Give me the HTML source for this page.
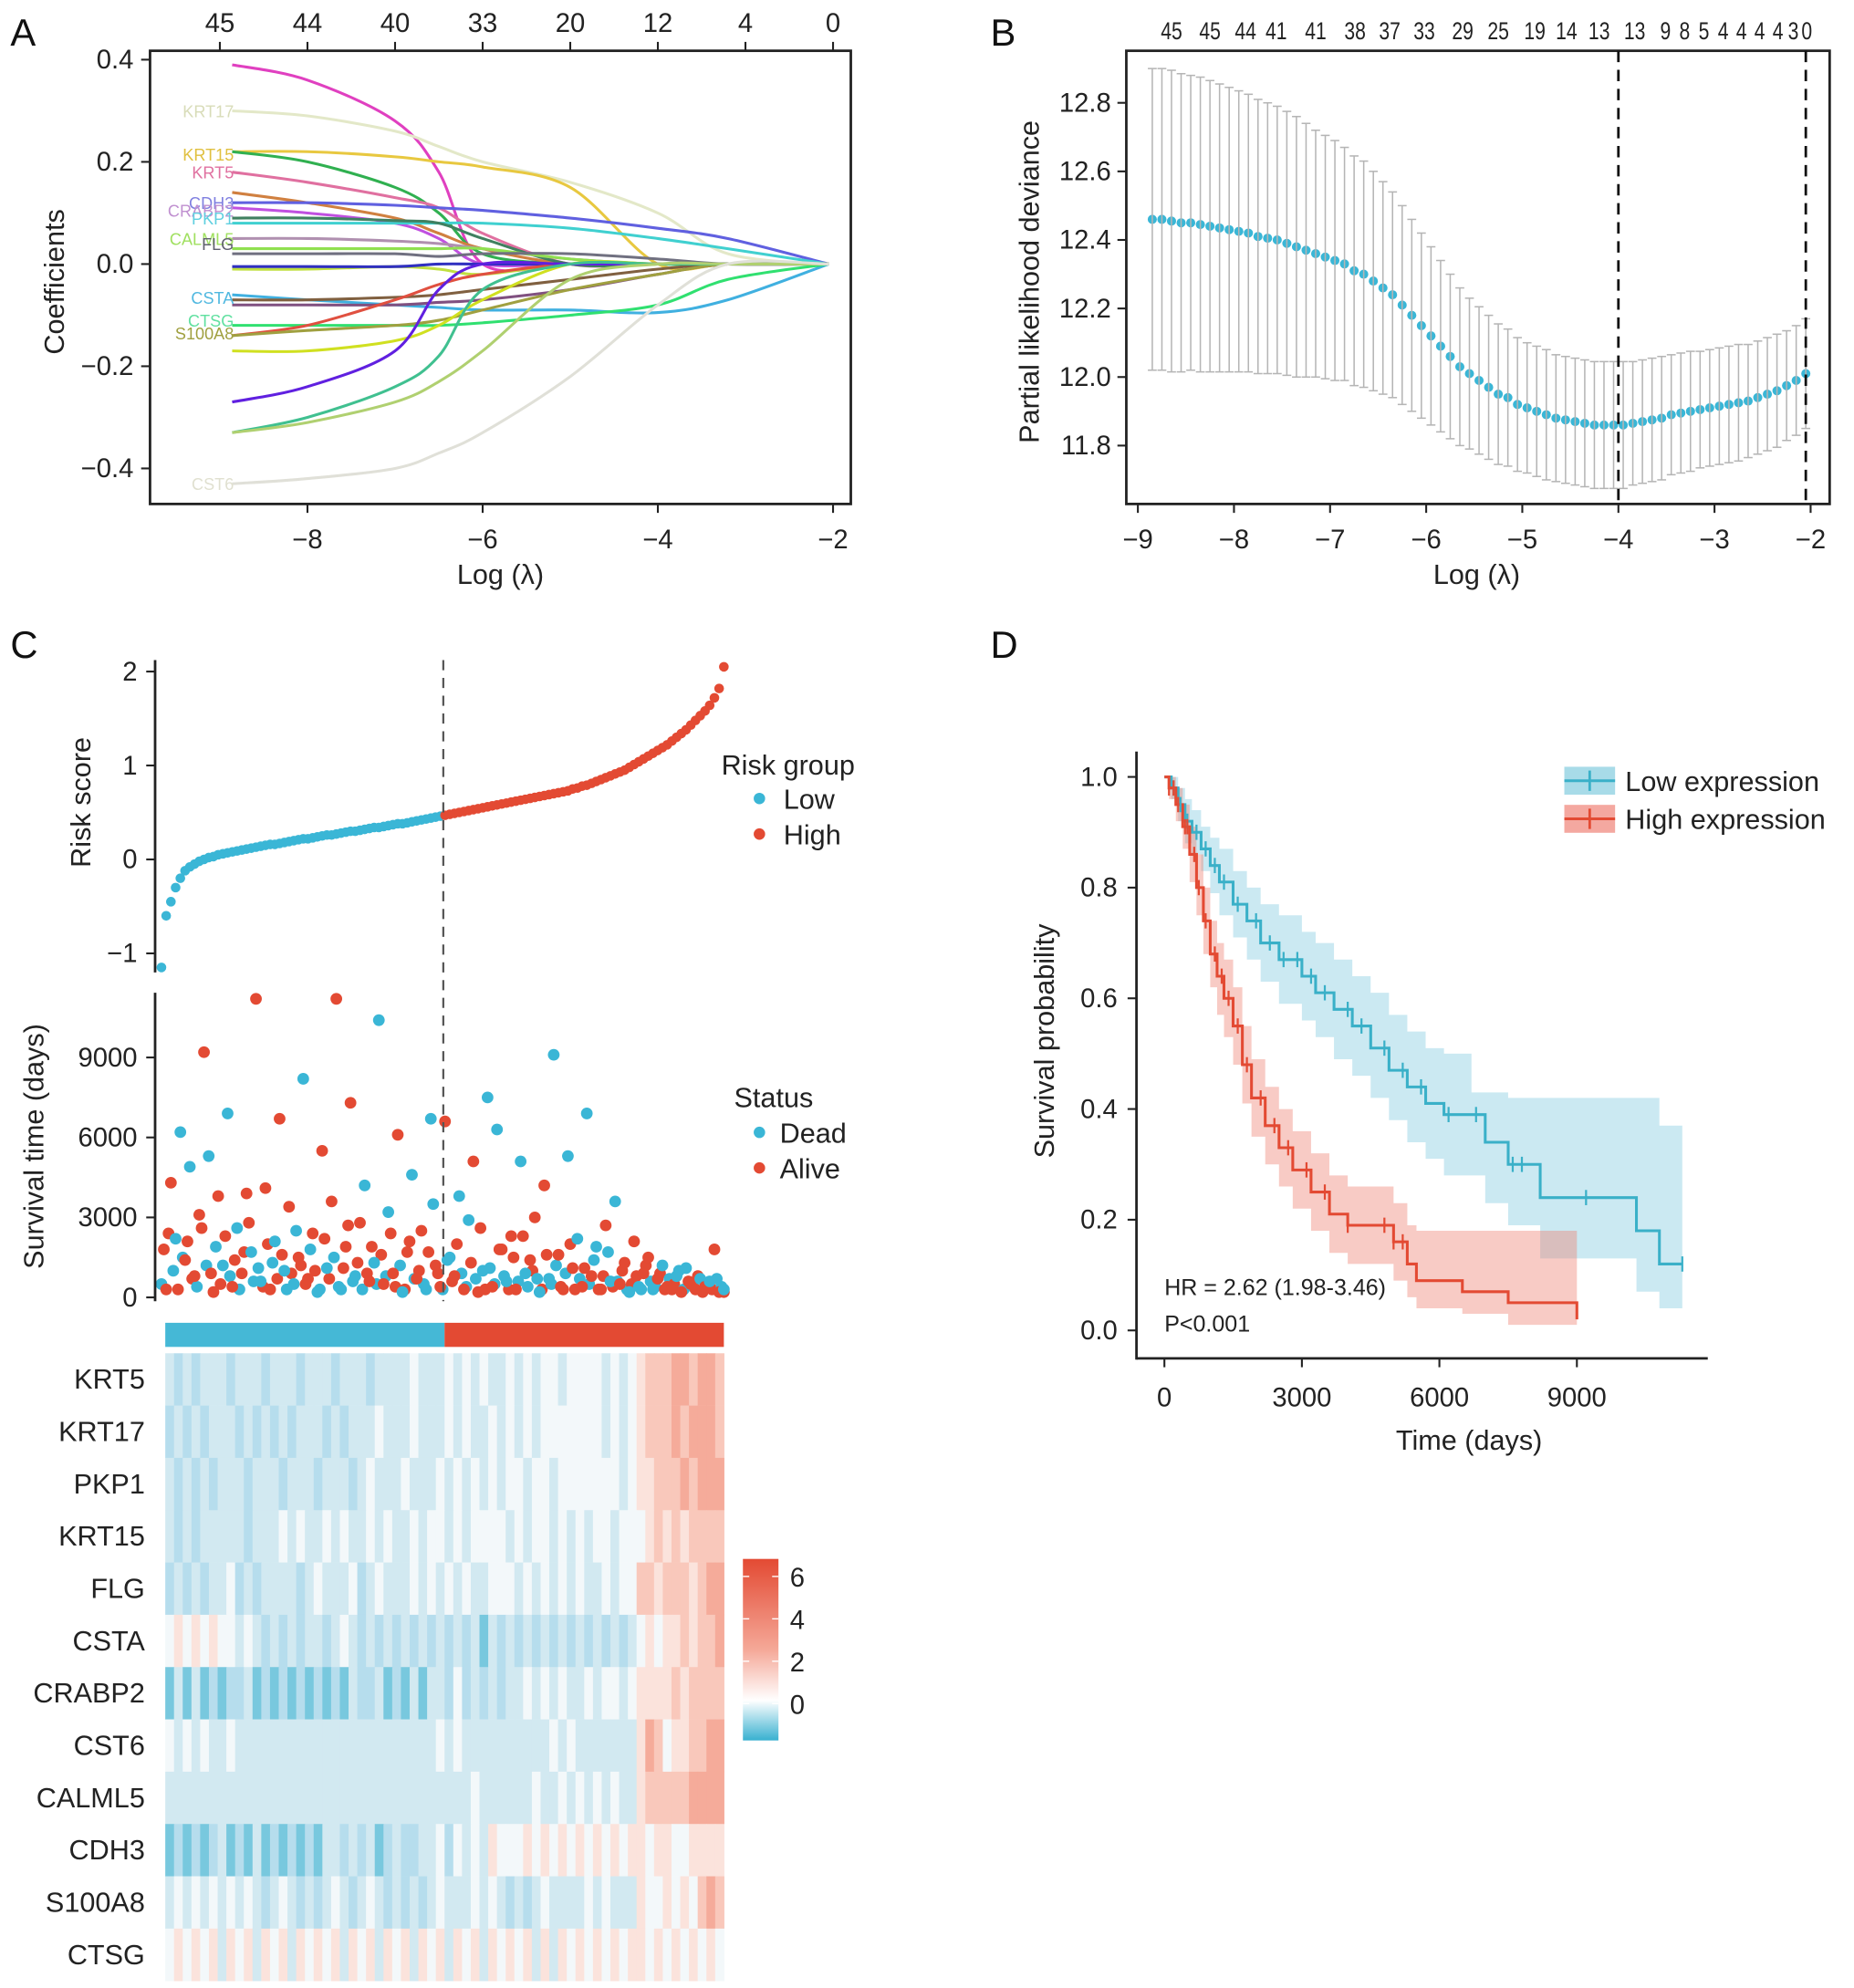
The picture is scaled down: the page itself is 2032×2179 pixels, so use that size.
<!DOCTYPE html>
<html><head><meta charset="utf-8"><style>
html,body{margin:0;padding:0;background:#fff}
svg{display:block;font-family:"Liberation Sans",Arial,sans-serif}
</style></head><body>
<svg id="fig" xmlns="http://www.w3.org/2000/svg" width="2032" height="2179" viewBox="0 0 1460 1566">
<rect x="0" y="0" width="1460" height="1566" fill="#fff"/>
</svg>
<script>
// ---------- Panel A data ----------
const aLambda=[-8.86,-8,-7,-6.5,-6,-5,-4,-3.2,-2.05];
const aColors=["#e040c0","#e3e8c8","#e8c840","#30b050","#e070a0","#d08040","#6060e0","#c050e0","#40d0d0","#408060","#b090b0","#90e050","#707080","#c0e040","#3030c0","#40b0e0","#806040","#805080","#30e070","#e05040","#a0a040","#d0e020","#6020e0","#40c090","#b0d070","#e0e0d8"];
const aCoefs=[
[.39,.36,.28,.18,0,0,0,0,0],
[.30,.29,.26,.23,.20,.16,.10,.02,0],
[.22,.22,.21,.20,.19,.15,0,0,0],
[.22,.20,.15,.10,.02,0,0,0,0],
[.18,.16,.13,.11,.06,0,0,0,0],
[.14,.12,.09,.06,.03,0,0,0,0],
[.12,.12,.115,.11,.105,.09,.07,.05,0],
[.11,.10,.08,.05,0,0,0,0,0],
[.08,.08,.08,.08,.08,.07,.05,.03,0],
[.09,.09,.085,.08,.05,0,0,0,0],
[.05,.05,.045,.04,.03,.01,0,0,0],
[.03,.03,.03,.03,.03,.01,0,0,0],
[.02,.02,.02,.015,.02,.02,.01,0,0],
[-.01,-.01,-.005,-.01,-.02,0,0,0,0],
[-.005,-.005,-.005,0,0,0,0,0,0],
[-.06,-.07,-.08,-.085,-.09,-.09,-.095,-.07,0],
[-.07,-.07,-.065,-.06,-.05,-.03,-.01,0,0],
[-.08,-.08,-.08,-.075,-.07,-.05,-.02,0,0],
[-.12,-.12,-.12,-.12,-.115,-.1,-.08,-.03,0],
[-.14,-.12,-.07,-.04,-.02,0,0,0,0],
[-.14,-.13,-.12,-.11,-.09,-.05,-.02,0,0],
[-.17,-.17,-.15,-.12,-.07,0,0,0,0],
[-.27,-.24,-.17,-.05,0,0,0,0,0],
[-.33,-.30,-.24,-.18,-.05,0,0,0,0],
[-.33,-.31,-.27,-.23,-.17,-.03,0,0,0],
[-.43,-.42,-.40,-.37,-.33,-.22,-.08,0,0]];
const aLabels=["KRT17","KRT15","KRT5","CDH3","CRABP2","PKP1","CALML5","FLG","CSTA","CTSG","S100A8","CST6"];
const aLabelVals=[.30,.215,.18,.12,.105,.09,.05,.04,-.065,-.11,-.135,-.43];
const aLabelColors=["#d8dcb8","#e0c040","#e070a0","#8080e0","#c090d0","#60d0e0","#a0e060","#606070","#50b8e0","#60e0a0","#a0a040","#e0e0d0"];
const aXTicks=[-8,-6,-4,-2];
const aYTicks=[0.4,0.2,0.0,-0.2,-0.4];
const aYTickLabels=["0.4","0.2","0.0","\u22120.2","\u22120.4"];
const aTopTicks=[-9,-8,-7,-6,-5,-4,-3,-2];
const aTopLabels=["45","44","40","33","20","12","4","0"];
// ---------- Panel B data ----------
const bStart=-8.85, bStep=0.1;
const bMeans=[12.46,12.46,12.455,12.45,12.45,12.445,12.44,12.435,12.43,12.425,
12.42,12.41,12.405,12.40,12.39,12.38,12.37,12.36,12.35,12.34,
12.33,12.31,12.30,12.28,12.26,12.24,12.21,12.18,12.15,12.12,
12.09,12.06,12.03,12.01,11.99,11.97,11.95,11.94,11.92,11.91,
11.90,11.89,11.88,11.875,11.87,11.865,11.86,11.86,11.86,11.86,
11.865,11.87,11.875,11.88,11.89,11.895,11.90,11.905,11.91,11.915,
11.92,11.925,11.93,11.94,11.95,11.96,11.975,11.99,12.01];
const bSE=[0.44,0.44,0.44,0.435,0.43,0.43,0.425,0.42,0.415,0.41,
0.405,0.40,0.395,0.39,0.385,0.38,0.37,0.36,0.355,0.35,
0.34,0.335,0.33,0.32,0.31,0.30,0.29,0.28,0.27,0.26,
0.25,0.24,0.23,0.22,0.215,0.21,0.205,0.20,0.195,0.19,
0.19,0.19,0.185,0.185,0.185,0.185,0.185,0.185,0.185,0.185,
0.18,0.18,0.18,0.18,0.175,0.175,0.175,0.17,0.17,0.17,
0.17,0.17,0.165,0.165,0.165,0.165,0.16,0.16,0.16];
const bXTicks=[-9,-8,-7,-6,-5,-4,-3,-2];
const bYTicks=[12.8,12.6,12.4,12.2,12.0,11.8];
const bTopLambda=[-8.65,-8.25,-7.88,-7.56,-7.15,-6.74,-6.38,-6.02,-5.62,-5.25,-4.87,-4.54,-4.2,-3.83,-3.51,-3.31,-3.11,-2.91,-2.72,-2.53,-2.34,-2.18,-2.04];
const bTopLabels=["45","45","44","41","41","38","37","33","29","25","19","14","13","13","9","8","5","4","4","4","4","3","0"];
const bVLines=[-4.0,-2.05];
// ---------- Panel C data ----------
const riskScores=[-1.15,-0.6,-0.45,-0.3,-0.2,-0.12,-0.08,-0.05,-0.02,0.0,0.02,0.03,0.05,0.06,0.07,0.08,0.09,0.10,0.11,0.12,0.13,0.14,0.15,0.16,0.16,0.17,0.18,0.19,0.20,0.21,0.22,0.22,0.23,0.24,0.25,0.26,0.26,0.27,0.28,0.29,0.30,0.30,0.31,0.32,0.33,0.34,0.34,0.35,0.36,0.37,0.38,0.38,0.39,0.40,0.41,0.42,0.43,0.44,0.45,0.46,
0.47,0.48,0.49,0.50,0.51,0.52,0.53,0.54,0.55,0.56,0.57,0.58,0.59,0.60,0.61,0.62,0.63,0.64,0.65,0.66,0.67,0.68,0.69,0.70,0.71,0.72,0.73,0.75,0.76,0.78,0.79,0.81,0.83,0.85,0.87,0.89,0.91,0.93,0.95,0.98,1.01,1.04,1.07,1.10,1.13,1.16,1.19,1.22,1.26,1.30,1.34,1.38,1.43,1.48,1.53,1.58,1.64,1.72,1.82,2.05];
const riskGroup=riskScores.map((v,i)=>i<60?"Low":"High");
const survTimes=[500,300,4300,2200,6200,1400,4900,800,3100,9200,5300,200,3800,1200,6900,400,2600,900,3900,1700,11200,600,4100,300,2100,6700,1000,3400,500,1500,8200,700,2400,200,5500,1100,3600,11200,300,1900,7300,800,2800,4200,600,1300,10400,500,3200,900,6100,200,1700,4600,700,2500,300,6700,1200,400,
6600,1500,800,3800,300,2900,5100,200,1000,7500,400,6300,1800,600,2300,300,5100,900,1400,3000,200,4200,700,9100,1600,300,5300,1100,2200,400,6900,800,1900,300,2700,600,3600,500,1300,200,2100,400,900,1500,300,700,1200,400,300,800,200,1100,500,300,700,400,600,1800,200,300];
const survStatus=[1,0,0,1,1,0,1,0,0,0,1,0,0,1,1,0,1,0,0,1,0,1,0,0,1,0,1,0,1,0,1,0,0,1,0,1,0,0,1,0,0,1,0,1,0,1,1,0,1,0,0,1,0,1,0,0,1,1,0,0,
0,1,0,1,0,1,0,0,1,1,0,1,0,1,0,0,1,1,0,0,1,0,1,1,0,0,1,0,1,0,1,0,1,0,0,1,1,0,0,1,0,1,0,0,1,0,1,0,0,1,0,1,0,0,1,0,1,0,0,1];
const survTimes2=[1800,2400,1000,300,1500,2100,700,400,2600,1200,900,1900,500,2300,800,1400,300,1700,2800,600,1100,400,2000,1300,700,1600,300,900,2500,1200,500,1800,1000,300,2200,700,1500,400,1100,2700,600,1300,300,900,1900,500,1600,800,2400,400,1200,300,2100,700,1000,500,1700,3500,900,300,
1400,600,2000,900,400,1300,700,2600,300,1100,500,1800,800,300,1500,600,2300,400,1000,700,300,1600,500,1200,400,900,2000,300,700,1100,500,1400,300,800,1700,400,600,1000,300,500,800,300,1200,600,400,900,300,700,500,1000,300,600,400,800,200,500,300,700,400,200];
const survStatus2=[0,0,1,0,1,0,0,1,0,1,0,1,0,0,1,0,1,0,0,1,1,0,0,1,0,0,1,0,1,0,0,1,0,1,0,0,1,1,0,0,1,0,1,0,0,1,0,1,0,0,1,0,0,1,0,1,0,1,0,1,
1,0,0,1,1,0,1,0,0,1,1,0,1,0,0,1,0,1,0,1,0,0,1,1,0,1,0,0,1,0,1,1,0,0,1,0,1,0,1,0,0,1,0,1,1,0,0,1,0,1,1,0,1,0,0,1,0,1,1,0];
const riskYTicks=[2,1,0,-1];
const riskYLabels=["2","1","0","\u22121"];
const survYTicks=[0,3000,6000,9000];
const genes=["KRT5","KRT17","PKP1","KRT15","FLG","CSTA","CRABP2","CST6","CALML5","CDH3","S100A8","CTSG"];
const heatRows=[
"323233323332333233323332333343334343433434344344443434"+"5666776776",
"232323332323232333232333433343334343343434344444443434"+"5666767776",
"323232333233323332333234333433343434343443443444444434"+"5566676777",
"323233333233343433434334343343443434444343443434344344"+"4565656666",
"232323342323333234333423433343434343344434343434334344"+"6656665677",
"454545443432323233234323232323232323132323232323232323"+"4545565667",
"131312122312121212121322312131332423232334343433434434"+"5555656666",
"434343343333333333333333333333343433333333334343333333"+"5764556677",
"333333333333333333333333333333333334333333433434343433"+"5666667777",
"121212312131212121332323123223342434354445454545454545"+"5455445555",
"343434343432343232343234323232343334343232343333434333"+"5445454676",
"454545354535453545453545354535453545354545353545454545"+"5454545454"];
const cbTicks=[6,4,2,0];
// ---------- Panel D data ----------
const lowT=[0,150,300,450,600,800,1000,1200,1500,1800,2100,2500,3000,3300,3700,4100,4500,4900,5300,5700,6100,6700,7000,7500,8200,10300,10800,11300];
const lowS=[1.0,0.98,0.95,0.92,0.90,0.87,0.84,0.81,0.77,0.74,0.70,0.67,0.64,0.61,0.58,0.55,0.51,0.47,0.44,0.41,0.39,0.39,0.34,0.30,0.24,0.18,0.12,0.12];
const lowLo=[1.0,0.96,0.92,0.88,0.86,0.83,0.79,0.75,0.71,0.67,0.63,0.59,0.56,0.53,0.49,0.46,0.42,0.38,0.34,0.31,0.28,0.28,0.23,0.19,0.13,0.07,0.04,0.04];
const lowHi=[1.0,1.0,0.98,0.96,0.94,0.91,0.89,0.87,0.83,0.80,0.77,0.75,0.72,0.70,0.67,0.64,0.61,0.57,0.54,0.51,0.50,0.43,0.43,0.42,0.42,0.42,0.37,0.37];
const highT=[0,100,250,400,550,700,850,1000,1150,1300,1500,1700,1900,2200,2500,2800,3200,3600,4000,4500,5000,5300,5500,6500,7500,9000];
const highS=[1.0,0.98,0.95,0.91,0.86,0.80,0.74,0.68,0.64,0.60,0.55,0.48,0.42,0.37,0.33,0.29,0.25,0.21,0.19,0.19,0.16,0.12,0.09,0.07,0.05,0.02];
const highLo=[1.0,0.96,0.92,0.87,0.81,0.75,0.68,0.62,0.57,0.53,0.48,0.41,0.35,0.30,0.26,0.22,0.18,0.14,0.12,0.12,0.09,0.06,0.04,0.03,0.01,0.0];
const highHi=[1.0,1.0,0.98,0.95,0.91,0.86,0.80,0.74,0.70,0.67,0.62,0.55,0.49,0.44,0.40,0.36,0.32,0.28,0.26,0.26,0.23,0.19,0.18,0.18,0.18,0.18];
const lowCensor=[200,350,500,700,900,1100,1300,1600,2000,2300,2600,2900,3200,3500,4000,4300,4800,5200,5600,6200,6800,7600,7800,9200,11300];
const highCensor=[100,200,300,450,500,650,750,900,1100,1250,1400,1600,1800,2100,2400,2700,3100,3500,4000,4800,5000,5200];
const dXTicks=[0,3000,6000,9000];
const dYTicks=[1.0,0.8,0.6,0.4,0.2,0.0];

// ---------- helpers ----------
const NS="http://www.w3.org/2000/svg";
const svg=document.getElementById("fig");
function el(tag,attrs,parent){const e=document.createElementNS(NS,tag);for(const k in attrs)e.setAttribute(k,attrs[k]);(parent||svg).appendChild(e);return e;}
function nm(e,n){
return e;}
function txt(x,y,s,size,anchor,name,extra){const t=el('text',Object.assign({x:x,y:y,'font-size':size,'text-anchor':anchor||'start',fill:'#222'},extra||{}));t.textContent=s;nm(t,name);return t;}
function line(x1,y1,x2,y2,name,stroke,w,extra){const l=el('line',Object.assign({x1:x1,y1:y1,x2:x2,y2:y2,stroke:stroke||'#222','stroke-width':w||1.5},extra||{}));nm(l,name);return l;}
function smooth(pts){let d='M'+pts[0][0].toFixed(1)+' '+pts[0][1].toFixed(1);
for(let i=0;i<pts.length-1;i++){const p0=pts[Math.max(0,i-1)],p1=pts[i],p2=pts[i+1],p3=pts[Math.min(pts.length-1,i+2)];
const c1=[p1[0]+(p2[0]-p0[0])/6,p1[1]+(p2[1]-p0[1])/6],c2=[p2[0]-(p3[0]-p1[0])/6,p2[1]-(p3[1]-p1[1])/6];
d+=' C'+c1[0].toFixed(1)+' '+c1[1].toFixed(1)+' '+c2[0].toFixed(1)+' '+c2[1].toFixed(1)+' '+p2[0].toFixed(1)+' '+p2[1].toFixed(1);}return d;}

// ---------- Panel A ----------
(function(){
const g=nm(el('g',{}),'panel-a');
const X=v=>656+(v+2)*69, Y=v=>208-v*402.5;
txt(8,36,"A",30,'start','panel-a-label',{fill:'#111'});
const frame=el('rect',{x:118,y:40,width:552,height:357,fill:'none',stroke:'#222','stroke-width':2},g);nm(frame,'plot-frame-a');
aCoefs.forEach((c,i)=>{const pts=c.map((v,j)=>[X(aLambda[j]),Y(v)]);
const p=el('path',{d:smooth(pts),fill:'none',stroke:aColors[i],'stroke-width':2.2,'stroke-linejoin':'round'},g);nm(p,'coef-path');});
aLabels.forEach((s,i)=>{txt(184,Y(aLabelVals[i])+5,s,13,'end','gene-label-'+s.toLowerCase(),{fill:aLabelColors[i]});});
aXTicks.forEach(v=>{line(X(v),397,X(v),404,'x-tick-a');txt(X(v),432,v<0?"\u2212"+(-v):String(v),21,'middle','x-tick-label-a');});
aYTicks.forEach((v,i)=>{line(111,Y(v),118,Y(v),'y-tick-a');txt(105,Y(v)+7,aYTickLabels[i],21,'end','y-tick-label-a');});
aTopTicks.forEach((v,i)=>{line(X(v),33,X(v),40,'top-tick-a');txt(X(v),25,aTopLabels[i],21,'middle','top-tick-label-a');});
txt(394,460,"Log (\u03bb)",22,'middle','x-axis-title-a');
txt(0,0,"Coefficients",22,'middle','y-axis-title-a',{transform:'translate(50,222) rotate(-90)'});
})();

// ---------- Panel B ----------
(function(){
const g=nm(el('g',{}),'panel-b');
const X=v=>1426+(v+2)*75.7, Y=v=>297-(v-12)*270;
txt(780,36,"B",30,'start','panel-b-label',{fill:'#111'});
const frame=el('rect',{x:887,y:40,width:554,height:357,fill:'none',stroke:'#222','stroke-width':2},g);nm(frame,'plot-frame-b');
bMeans.forEach((m,i)=>{const lam=bStart+i*bStep,x=X(lam),lo=Y(m-bSE[i]),hi=Y(m+bSE[i]);
line(x,hi,x,lo,'error-bar','#b5b5b5',1.1);line(x-3.5,hi,x+3.5,hi,'error-cap','#b5b5b5',1.1);line(x-3.5,lo,x+3.5,lo,'error-cap','#b5b5b5',1.1);});
bMeans.forEach((m,i)=>{const c=el('circle',{cx:X(bStart+i*bStep),cy:Y(m),r:3.6,fill:'#3ab6d6'},g);nm(c,'deviance-point');});
bVLines.forEach(v=>line(X(v),40,X(v),397,'lambda-min-line','#111',2,{'stroke-dasharray':'9,6'}));
bXTicks.forEach(v=>{line(X(v),397,X(v),404,'x-tick-b');txt(X(v),432,"\u2212"+(-v),21,'middle','x-tick-label-b');});
bYTicks.forEach(v=>{line(880,Y(v),887,Y(v),'y-tick-b');txt(875,Y(v)+7,v.toFixed(1),21,'end','y-tick-label-b');});
bTopLabels.forEach((s,i)=>txt(X(bTopLambda[i]),31,s,19,'middle','top-count-label-b',{transform:'translate('+X(bTopLambda[i])+',31) scale(0.8,1) translate('+(-X(bTopLambda[i]))+',-31)'}));
txt(1163,460,"Log (\u03bb)",22,'middle','x-axis-title-b');
txt(0,0,"Partial likelihood deviance",22,'middle','y-axis-title-b',{transform:'translate(818,222) rotate(-90)'});
})();

// ---------- Panel C ----------
(function(){
const g=nm(el('g',{}),'panel-c');
txt(8,518,"C",30,'start','panel-c-label',{fill:'#111'});
const n=riskScores.length, CX=i=>127+i*(570-127)/(n-1);
const RY=v=>677-v*74;
line(122,520,122,766,'risk-y-axis','#222',2);
riskYTicks.forEach((v,i)=>{line(115,RY(v),122,RY(v),'risk-y-tick');txt(108,RY(v)+7,riskYLabels[i],21,'end','risk-y-tick-label');});
riskScores.forEach((v,i)=>{const c=el('circle',{cx:CX(i),cy:RY(v),r:3.8,fill:riskGroup[i]==="Low"?'#3ab6d6':'#e34a33'},g);nm(c,'risk-point');});
txt(0,0,"Risk score",22,'middle','risk-y-title',{transform:'translate(71,632) rotate(-90)'});
const SY=v=>1022-v*0.021;
line(122,782,122,1025,'surv-y-axis','#222',2);
survYTicks.forEach(v=>{line(115,SY(v),122,SY(v),'surv-y-tick');txt(108,SY(v)+7,String(v),21,'end','surv-y-tick-label');});
const half=(570-127)/(n-1)/2;
survTimes2.forEach((v,i)=>{const c=el('circle',{cx:Math.min(570,CX(i)+half),cy:SY(v),r:4.6,fill:survStatus2[i]?'#3ab6d6':'#e34a33'},g);nm(c,'survival-point');});
survTimes.forEach((v,i)=>{const c=el('circle',{cx:CX(i),cy:SY(v),r:4.6,fill:survStatus[i]?'#3ab6d6':'#e34a33'},g);nm(c,'survival-point');});
txt(0,0,"Survival time (days)",22,'middle','surv-y-title',{transform:'translate(34,903) rotate(-90)'});
line(349,520,349,1025,'risk-cutoff-line','#555',1.6,{'stroke-dasharray':'8,6'});
// legends
txt(568,610,"Risk group",22,'start','legend-title-risk-group');
[["Low",'#3ab6d6',636],["High",'#e34a33',664]].forEach(r=>{const c=el('circle',{cx:598,cy:r[2]-7,r:4.5,fill:r[1]},g);nm(c,'legend-key-'+r[0].toLowerCase());txt(617,r[2]+1,r[0],22,'start','legend-entry-'+r[0].toLowerCase());});
txt(578,872,"Status",22,'start','legend-title-status');
[["Dead",'#3ab6d6',899],["Alive",'#e34a33',927]].forEach(r=>{const c=el('circle',{cx:598,cy:r[2]-7,r:4.5,fill:r[1]},g);nm(c,'legend-key-'+r[0].toLowerCase());txt(614,r[2]+1,r[0],22,'start','legend-entry-'+r[0].toLowerCase());});
// group bar
const lowN=riskGroup.filter(v=>v==="Low").length;
const bx=i=>130+i*(440/n);
const b1=el('rect',{x:130,y:1042,width:bx(lowN)-130,height:19,fill:'#45b8d6'},g);nm(b1,'group-bar-low');
const b2=el('rect',{x:bx(lowN),y:1042,width:570-bx(lowN),height:19,fill:'#e34a33'},g);nm(b2,'group-bar-high');
// heatmap
const pal=["#40b4d2","#78c8de","#b6dded","#d2e9f1","#f3f8fa","#fbe3dc","#f9c8bb","#f5ab9a","#ee8470","#e5553f"];
heatRows.forEach((row,r)=>{const y=1066+r*41.2, w=440/row.length;
for(let k=0;k<row.length;k++){const c=el('rect',{x:(130+k*w).toFixed(2),y:y.toFixed(1),width:(w+0.4).toFixed(2),height:41.4,fill:pal[+row[k]]},g);nm(c,'heatmap-cell');}
txt(114,y+28,genes[r],22,'end','gene-row-label-'+genes[r].toLowerCase());});
// colorbar
const grad=el('linearGradient',{id:'cbg',x1:0,y1:1,x2:0,y2:0},el('defs',{},g));
[[0,'#38b0d0'],[0.22,'#ffffff'],[0.5,'#f5a898'],[1,'#e34a33']].forEach(s=>el('stop',{offset:s[0],'stop-color':s[1]},grad));
const cb=el('rect',{x:585,y:1228,width:28,height:143,fill:'url(#cbg)'},g);nm(cb,'colorbar');
const CBY=v=>1342-v*16.7;
cbTicks.forEach(v=>{line(585,CBY(v),590,CBY(v),'colorbar-tick','#fff',1);line(608,CBY(v),613,CBY(v),'colorbar-tick','#fff',1);txt(622,CBY(v)+8,String(v),21,'start','colorbar-tick-label');});
})();

// ---------- Panel D ----------
(function(){
const g=nm(el('g',{}),'panel-d');
txt(780,518,"D",30,'start','panel-d-label',{fill:'#111'});
const X=t=>917+t*0.0361, Y=s=>1048-s*436;
function stepD(T,S){let d='M'+X(T[0])+' '+Y(S[0]);for(let i=1;i<T.length;i++)d+=' H'+X(T[i]).toFixed(1)+' V'+Y(S[i]).toFixed(1);return d;}
function band(T,Lo,Hi){let up=[],dn=[];for(let i=0;i<T.length;i++){const x0=X(T[i]),x1=X(i<T.length-1?T[i+1]:T[i]);up.push(x0+','+Y(Hi[i]),x1+','+Y(Hi[i]));dn.unshift(x1+','+Y(Lo[i]),x0+','+Y(Lo[i]));}return up.concat(dn).join(' ');}
function atT(T,S,t){let s=S[0];for(let i=0;i<T.length;i++)if(T[i]<=t)s=S[i];return s;}
const bl=el('polygon',{points:band(lowT,lowLo,lowHi),fill:'#7cc9df','fill-opacity':0.4},g);nm(bl,'ci-band-low');
const bh=el('polygon',{points:band(highT,highLo,highHi),fill:'#ee7d6e','fill-opacity':0.4},g);nm(bh,'ci-band-high');
const pl=el('path',{d:stepD(lowT,lowS),fill:'none',stroke:'#3ab0c8','stroke-width':2.2},g);nm(pl,'km-curve-low');
const ph=el('path',{d:stepD(highT,highS),fill:'none',stroke:'#e34a33','stroke-width':2.2},g);nm(ph,'km-curve-high');
lowCensor.forEach(t=>{const y=Y(atT(lowT,lowS,t));line(X(t),y-6,X(t),y+6,'censor-mark-low','#3ab0c8',1.6);});
highCensor.forEach(t=>{const y=Y(atT(highT,highS,t));line(X(t),y-6,X(t),y+6,'censor-mark-high','#e34a33',1.6);});
line(895,592,895,1071,'d-y-axis','#222',2);
line(895,1070,1345,1070,'d-x-axis','#222',2);
dXTicks.forEach(v=>{line(X(v),1070,X(v),1077,'d-x-tick');txt(X(v),1108,String(v),21,'middle','d-x-tick-label');});
dYTicks.forEach(v=>{line(888,Y(v),895,Y(v),'d-y-tick');txt(880,Y(v)+7,v.toFixed(1),21,'end','d-y-tick-label');});
txt(1157,1142,"Time (days)",22,'middle','d-x-axis-title');
txt(0,0,"Survival probability",22,'middle','d-y-axis-title',{transform:'translate(830,820) rotate(-90)'});
txt(917,1020,"HR = 2.62 (1.98-3.46)",18,'start','hazard-ratio-text');
txt(917,1049,"P<0.001",18,'start','p-value-text');
[["Low expression",'#3ab0c8','#a8dbe8',615],["High expression",'#e34a33','#f4a8a0',645]].forEach(r=>{
const k=el('rect',{x:1232,y:r[3]-11,width:40,height:22,fill:r[2]},g);nm(k,'legend-key-band');
line(1232,r[3],1272,r[3],'legend-key-line',r[1],2.2);line(1252,r[3]-8,1252,r[3]+8,'legend-key-censor',r[1],2);
txt(1280,r[3]+8,r[0],22,'start','legend-entry-'+r[0].split(' ')[0].toLowerCase());});
})();
</script>
</body></html>
